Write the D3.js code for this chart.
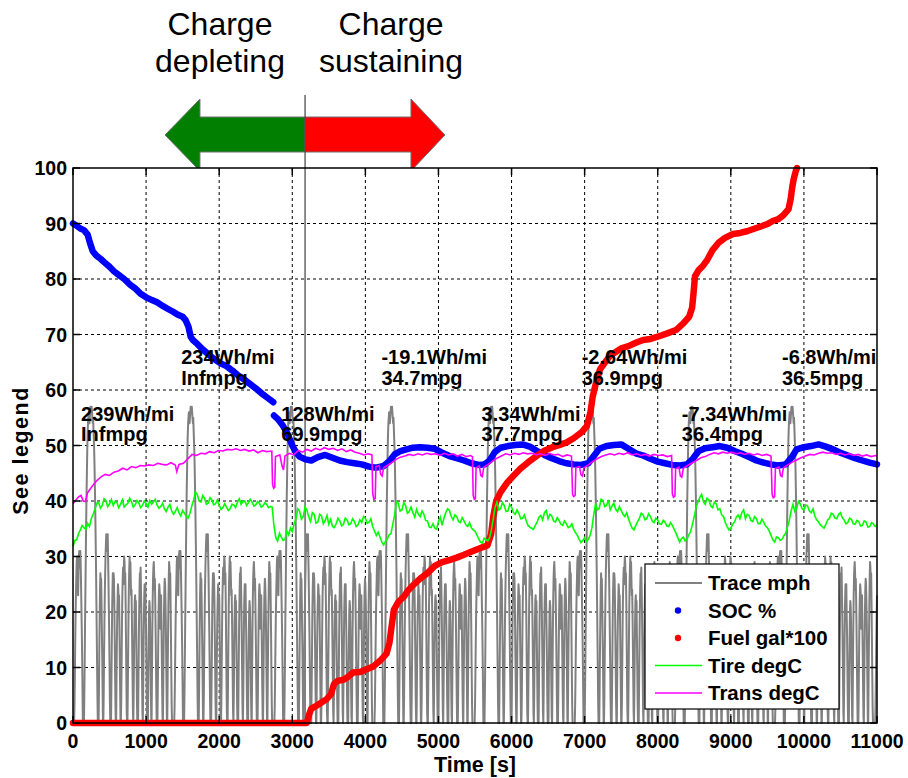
<!DOCTYPE html>
<html>
<head>
<meta charset="utf-8">
<script src="https://cdn.jsdelivr.net/npm/d3@7"></script>
<style>
  body { margin: 0; background: #fff; }
  text { font-family: Arial, "Liberation Sans", Helvetica, sans-serif; }
</style>
</head>
<body>
<svg id="chart" width="908" height="778"></svg>
<script>
// ---------------- data ----------------
// Drive-cycle speed trace (mph), one lap sampled every 5 s; the test repeats the lap.
const lapStarts = [0, 1370, 2740, 4110, 5480, 6850, 8220, 9590, 10960];
const lapSampleSec = 5;
const speedLap = [
  0,0,0,0,3,8,14,19,23,26,
  29,30,28,25,23,27,30,31,30,28,
  31,29,25,21,17,12,6,0,0,0,
  0,5,11,18,24,30,36,41,45,49,
  52,54,55,56,55,54,55,56,57,56,
  56,57,56,55,54,55,53,51,49,46,
  42,38,33,28,22,16,10,4,0,0,
  0,6,13,19,24,27,25,26,22,17,
  12,6,0,0,5,12,18,23,27,30,
  32,34,33,31,33,34,30,26,21,16,
  10,4,0,0,0,6,13,20,24,27,
  25,27,26,22,16,10,4,0,0,7,
  14,19,22,25,24,20,23,18,12,6,
  0,0,4,11,18,23,26,28,25,28,
  30,29,26,27,22,15,8,2,0,0,
  6,13,20,25,28,30,27,29,26,23,
  24,20,14,8,2,0,5,12,18,22,
  23,20,22,16,10,4,0,0,0,7,
  14,20,24,27,26,28,24,20,14,8,
  2,0,6,13,19,23,25,22,25,20,
  16,10,4,0,0,0,8,15,20,22,
  21,18,12,6,1,0,8,16,22,26,
  28,29,27,24,26,22,17,11,5,0,
  0,0,6,13,19,23,25,24,21,17,
  20,23,18,12,6,1,0,7,14,20,
  24,26,25,22,18,12,6,0,0,8,
  15,21,26,29,28,25,27,22,16,9,
  3,0,0,0
];

// Battery state of charge [time s, %]; null marks the logging gap
const socPoints = [
  [0,90],[50,89.6],[100,89.1],[150,88.8],[200,88],[230,86.6],[270,85],[320,84.2],[380,83.6],[430,83],
  [500,82.2],[560,81.4],[620,80.8],[700,80],[780,79],[850,78.3],[920,77.4],[1000,76.7],[1080,76.2],[1150,75.8],
  [1220,75.2],[1300,74.6],[1370,74.1],[1430,73.6],[1500,73.2],[1540,72.6],[1580,71.4],[1610,69.6],[1640,69],[1700,68.3],
  [1760,67.5],[1820,66.8],[1880,66.1],[1950,65.4],[2020,64.8],[2100,64.3],[2180,63.5],[2260,62.6],[2340,61.9],[2420,61.1],
  [2500,60.3],[2580,59.4],[2660,58.6],[2740,57.8],[2745,null],[2750,55.4],[2800,54.8],[2860,53.8],[2920,52.5],[2970,51],
  [3000,50],[3050,48.8],[3100,48],[3180,47.5],[3260,47.3],[3350,47.9],[3450,48.3],[3550,47.8],[3650,47.3],[3750,47],
  [3850,46.8],[3950,46.6],[4050,46.2],[4150,46],[4250,46.3],[4330,47.2],[4400,48.4],[4480,49],[4560,49.3],[4650,49.6],
  [4750,49.7],[4850,49.6],[4950,49.4],[5050,48.7],[5150,48.1],[5250,47.7],[5350,47.3],[5450,46.8],[5550,46.5],[5630,46.6],
  [5700,47.3],[5770,48.8],[5850,49.6],[5950,49.9],[6050,50.1],[6150,50.2],[6250,49.8],[6350,49],[6450,48.3],[6550,47.7],
  [6650,47.2],[6750,46.8],[6850,46.6],[6950,46.5],[7050,46.8],[7120,48],[7200,49.4],[7300,49.9],[7400,50.1],[7500,50.2],
  [7600,49.4],[7700,48.6],[7800,48.2],[7900,47.6],[8000,47.1],[8100,46.8],[8200,46.5],[8300,46.4],[8400,46.6],[8480,47.6],
  [8560,49],[8650,49.5],[8750,49.7],[8850,49.9],[8950,49.6],[9050,49],[9150,48.5],[9250,47.9],[9350,47.3],[9450,46.9],
  [9550,46.6],[9650,46.4],[9750,46.6],[9830,47.8],[9900,49.3],[10000,49.7],[10100,49.9],[10200,50.2],[10300,49.8],[10400,49.3],
  [10500,48.7],[10600,48.2],[10700,47.7],[10800,47.3],[10900,46.9],[11000,46.6]
];

// Cumulative fuel used [time s, gal*100]
const fuelPoints = [
  [0,0],[3200,0],[3230,1.5],[3260,2.6],[3330,3.1],[3400,3.7],[3470,4.3],[3530,5.2],[3570,7],[3620,7.6],
  [3700,7.8],[3760,8.3],[3830,9.1],[3930,9.2],[4000,9.6],[4110,10.2],[4200,11.2],[4290,12.5],[4330,14.5],[4360,17.5],
  [4390,20.4],[4450,21.8],[4530,22.8],[4580,23.8],[4650,24.8],[4750,26],[4850,27],[4950,28.3],[5050,29],[5160,29.4],
  [5250,29.8],[5350,30.3],[5440,30.8],[5550,31.4],[5670,32],[5720,34],[5750,37.2],[5790,40],[5850,41.6],[5940,43.3],
  [6030,44.6],[6120,45.8],[6220,46.9],[6330,48],[6440,49],[6560,49.7],[6680,50.2],[6760,50.6],[6850,51.3],[6960,52.4],
  [7030,53.5],[7080,56],[7110,58.8],[7150,61],[7210,63.7],[7280,65],[7350,66.2],[7420,66.8],[7500,67.5],[7600,67.9],
  [7700,68.5],[7800,69],[7900,69.2],[8000,69.6],[8130,70.2],[8250,70.8],[8350,72],[8430,73.2],[8470,74.8],[8490,77.5],
  [8510,80.5],[8560,81.6],[8620,82.4],[8680,83.5],[8750,85.2],[8830,86.5],[8920,87.4],[9030,88.1],[9130,88.3],[9220,88.6],
  [9330,89.1],[9420,89.5],[9500,89.9],[9580,90.5],[9650,90.8],[9720,91.5],[9790,92.6],[9820,94.5],[9840,96.5],[9860,98],
  [9890,99.5],[9905,100]
];

// Tire temperature (degC), sampled every 25 s from t = 0
const tireSampleSec = 25;
const tireDegC = [
  31.8,32.9,33.0,34.1,34.8,35.6,35.2,34.9,36.0,35.4,36.8,37.6,38.5,39.6,39.8,38.7,39.2,40.4,40.1,39.0,
  39.5,40.3,39.2,39.9,39.8,38.8,39.4,40.2,38.9,39.3,39.6,40.5,39.9,38.9,39.3,40.1,39.7,38.8,39.2,40.0,
  39.5,38.9,40.1,39.4,39.8,40.3,39.3,38.7,39.0,39.6,38.6,38.1,38.9,39.4,38.2,37.6,38.1,38.8,37.9,37.3,
  38.3,37.8,37.2,36.9,37.8,39.1,40.2,41.6,41.2,40.0,39.8,41.0,40.5,39.4,39.6,40.6,40.2,39.3,39.5,40.2,
  39.2,38.5,38.8,39.5,38.9,38.3,38.6,39.4,39.3,38.8,39.8,40.4,39.4,39.9,40.0,39.2,39.7,40.3,39.8,39.1,
  39.3,39.9,39.6,38.9,39.1,39.7,39.4,38.8,39.0,38.9,35.5,33.4,32.8,34.2,33.5,32.9,33.1,34.6,33.9,35.1,
  34.5,35.9,36.8,38.6,38.2,36.7,37.2,38.9,38.4,37.1,36.3,37.9,37.6,36.0,36.2,37.6,37.3,35.9,36.5,37.4,
  35.8,36.7,35.4,35.2,35.9,36.9,36.4,35.5,35.8,36.9,36.6,35.7,35.9,36.8,36.3,35.4,35.7,36.6,36.1,37.2,
  36.9,36.0,36.2,36.8,35.4,34.6,33.8,34.4,33.5,32.6,32.1,32.7,33.2,33.9,34.1,35.8,37.5,39.9,39.6,38.2,
  38.4,39.7,39.2,37.8,38.1,38.9,37.9,37.1,38.5,37.6,37.2,38.2,37.6,36.5,36.4,35.3,35.2,35.9,35.1,34.9,
  36.3,37.1,35.6,36.9,37.9,38.6,38.3,37.2,36.6,37.5,37.2,36.3,36.1,37.0,36.4,35.7,35.4,36.1,35.2,34.8,
  34.6,33.9,33.2,32.6,32.4,33.3,33.1,32.8,33.4,34.9,36.8,38.9,39.8,38.4,38.6,39.7,39.2,38.1,38.2,39.4,
  38.9,37.9,37.6,38.4,37.8,36.8,36.9,37.5,36.5,35.6,35.3,35.1,34.9,35.6,36.2,37.1,37.4,36.6,37.9,38.3,
  36.8,37.6,37.3,36.4,36.2,37.0,36.5,35.8,35.6,36.4,35.9,35.2,35.4,35.9,34.9,34.3,33.8,33.1,32.5,32.9,
  33.4,32.7,33.1,33.8,35.2,37.6,39.5,38.4,38.7,40.3,40.1,39.0,39.2,40.2,38.4,39.1,39.6,38.5,38.1,39.0,
  38.3,37.6,37.2,37.9,36.8,35.9,35.1,34.8,35.6,36.3,36.9,37.8,37.5,36.6,36.8,37.7,37.2,36.4,36.1,36.9,
  36.6,35.9,35.8,36.5,36.2,35.5,35.4,36.1,35.6,34.9,34.2,33.4,32.6,33.2,33.5,32.8,33.1,33.9,34.5,35.8,
  37.2,38.9,39.8,40.6,41.2,39.9,39.4,40.5,40.2,39.1,38.8,39.8,39.5,38.4,38.6,37.5,37.2,36.1,35.4,34.8,
  35.1,35.8,36.2,37.1,37.5,36.8,37.9,38.4,36.8,37.6,37.4,36.5,36.3,37.2,36.8,35.9,35.9,36.7,36.2,35.5,
  35.2,34.6,33.8,33.0,32.6,33.5,33.4,32.9,33.1,33.7,34.2,35.3,36.5,38.2,39.4,38.1,38.6,39.9,39.5,38.6,
  38.4,39.3,39.1,38.2,37.9,38.6,37.3,36.6,36.2,35.7,35.4,35.1,35.8,36.6,36.9,37.8,37.6,36.9,36.8,37.6,
  37.9,37.0,36.6,35.9,36.1,36.9,36.7,35.9,35.8,36.5,36.3,35.5,35.6,36.4,36.2,35.3,35.4,36.1,35.9,35.4,
  35.7
];

// Transmission temperature [time s, degC]
const transPoints = [
  [0,39.5],[40,40.2],[80,40.8],[110,41],[140,40],[170,39.9],[200,41.5],[260,42.6],[320,43.6],[380,44.3],
  [440,44.8],[500,44.6],[560,45.2],[620,45.4],[680,45.9],[740,45.6],[800,46.2],[860,46],[920,46.4],[980,46.3],
  [1040,46.5],[1100,46.4],[1160,46.8],[1220,46.6],[1280,46.5],[1340,46.9],[1400,46.5],[1420,45.3],[1450,46.6],[1510,46.8],
  [1570,47.6],[1630,48.4],[1690,48.2],[1750,48.6],[1810,48.5],[1870,48.9],[1930,48.7],[1990,49.1],[2050,49],[2110,49.3],
  [2170,49.2],[2230,49.4],[2290,49.1],[2350,49.3],[2410,49],[2470,49.2],[2530,48.7],[2590,49.1],[2650,48.9],[2720,49],
  [2730,43],[2745,42.3],[2760,42.5],[2770,48],[2830,48.3],[2860,46.3],[2880,45.6],[2900,48.1],[2960,48.6],[3020,48.3],
  [3080,49.1],[3140,48.8],[3200,49.3],[3260,49],[3320,49.5],[3380,49.2],[3440,49.6],[3500,49.3],[3560,49.5],[3620,49.1],
  [3680,49.4],[3740,48.9],[3800,49.2],[3860,48.8],[3920,48.6],[3980,48.3],[4040,48.5],[4090,48.3],[4100,41.5],[4115,40.3],
  [4135,40.5],[4145,46.2],[4190,46.4],[4210,44.8],[4230,44.5],[4250,46],[4300,46.4],[4360,46.9],[4420,47.5],[4480,47.9],
  [4540,48.1],[4600,48.4],[4660,48.2],[4720,48.5],[4780,48.3],[4840,48.6],[4900,48.4],[4960,48.5],[5020,48.2],[5080,48.6],
  [5140,48.3],[5200,48.5],[5260,48.1],[5320,48.4],[5380,48],[5440,48.2],[5465,48],[5475,41],[5490,40.3],[5505,40.4],
  [5515,46],[5560,46.3],[5580,44.6],[5600,44.4],[5620,46.1],[5680,46.6],[5740,47.2],[5800,47.7],[5860,48.1],[5920,48.5],
  [5980,48.3],[6040,48.6],[6100,48.4],[6160,48.7],[6220,48.5],[6280,48.6],[6340,48.3],[6400,48.5],[6460,48.2],[6520,48.6],
  [6580,48.3],[6640,48.4],[6700,48],[6760,48.3],[6820,48.1],[6835,41.2],[6850,40.8],[6870,41],[6880,46],[6930,46.2],
  [6950,44.7],[6970,44.5],[6990,46],[7050,46.5],[7110,47.1],[7170,47.6],[7230,48],[7290,48.3],[7350,48.5],[7410,48.3],
  [7470,48.6],[7530,48.4],[7590,48.7],[7650,48.3],[7710,48.5],[7770,48.2],[7830,48.4],[7890,48.1],[7950,48.4],[8010,48.2],
  [8070,48.3],[8130,48],[8190,48.2],[8200,41.3],[8215,40.7],[8235,40.9],[8245,45.8],[8290,46.1],[8310,44.5],[8330,44.3],
  [8350,45.9],[8410,46.4],[8470,46.9],[8530,47.3],[8590,47.8],[8650,48],[8710,48.4],[8770,48.7],[8830,48.5],[8890,48.8],
  [8950,48.6],[9010,48.8],[9070,48.5],[9130,48.7],[9190,48.4],[9250,48.6],[9310,48.3],[9370,48.5],[9430,48.2],[9490,48.4],
  [9550,48.1],[9565,41.2],[9580,40.6],[9600,40.8],[9610,45.9],[9660,46.1],[9680,44.6],[9700,44.4],[9720,46],[9780,46.5],
  [9840,47],[9900,47.4],[9960,47.8],[10020,48.1],[10080,48.4],[10140,48.3],[10200,48.6],[10260,48.8],[10320,48.6],[10380,48.7],
  [10440,48.4],[10500,48.6],[10560,48.3],[10620,48.5],[10680,48.2],[10740,48.4],[10800,48.1],[10860,48.3],[10920,48],[10980,48.2],
  [11000,48.1]
];

// Per-lap energy / fuel economy annotations
const lapLabelTime = [110, 1480, 2850, 4220, 5590, 6960, 8330, 9700];
const lapLabelLevel = [54.5, 64.6, 54.5, 64.6, 54.5, 64.6, 54.5, 64.6];
const lapEnergy = ["239Wh/mi", "234Wh/mi", "128Wh/mi", "-19.1Wh/mi", "3.34Wh/mi", "-2.64Wh/mi", "-7.34Wh/mi", "-6.8Wh/mi"];
const lapEconomy = ["Infmpg", "Infmpg", "69.9mpg", "34.7mpg", "37.7mpg", "36.9mpg", "36.4mpg", "36.5mpg"];

// Operating-mode banner
const modeSplitTime = 3175;
const modeArrowTimes = [1259, 1737, 4624, 5089]; // left tip, left head base, right head base, right tip
const modeNames = [["Charge", "depleting"], ["Charge", "sustaining"]];
const modeLabelTime = [2011, 4351];

const xTicks = [0, 1000, 2000, 3000, 4000, 5000, 6000, 7000, 8000, 9000, 10000, 11000];
const yTicks = [0, 10, 20, 30, 40, 50, 60, 70, 80, 90, 100];
const legendLabels = ["Trace mph", "SOC %", "Fuel gal*100", "Tire degC", "Trans degC"];

// ---------------- drawing ----------------
const svg = d3.select("#chart");
const plot = { left: 73, top: 168, right: 877, bottom: 723 };
const x = d3.scaleLinear().domain([0, 11000]).range([plot.left, plot.right]);
const y = d3.scaleLinear().domain([0, 100]).range([plot.bottom, plot.top]);

svg.append("rect").attr("width", 908).attr("height", 778).attr("fill", "#fff");

// mode arrows
const aTop = 99, aBodyTop = 117, aMid = 135, aBodyBot = 152, aBot = 171;
const [tL, hL, hR, tR] = modeArrowTimes.map(x);
const xs = x(modeSplitTime);
svg.append("polygon")
  .attr("points", [[tL, aMid], [hL, aTop], [hL, aBodyTop], [xs, aBodyTop], [xs, aBodyBot], [hL, aBodyBot], [hL, aBot]].join(" "))
  .attr("fill", "#007f00").attr("stroke", "#707070").attr("stroke-width", 1);
svg.append("polygon")
  .attr("points", [[xs, aBodyTop], [hR, aBodyTop], [hR, aTop], [tR, aMid], [hR, aBot], [hR, aBodyBot], [xs, aBodyBot]].join(" "))
  .attr("fill", "#ff0000").attr("stroke", "#707070").attr("stroke-width", 1);

modeNames.forEach((lines, i) => {
  const t = svg.append("text").attr("x", x(modeLabelTime[i])).attr("text-anchor", "middle")
    .attr("font-size", 32).attr("fill", "#000");
  t.append("tspan").attr("x", x(modeLabelTime[i])).attr("y", 35).text(lines[0]);
  t.append("tspan").attr("x", x(modeLabelTime[i])).attr("y", 72).text(lines[1]);
});

// plot background
svg.append("rect").attr("x", plot.left).attr("y", plot.top)
  .attr("width", plot.right - plot.left).attr("height", plot.bottom - plot.top).attr("fill", "#fff");

// grid
const grid = svg.append("g").attr("stroke", "#000").attr("stroke-width", 1).attr("stroke-dasharray", "3,3");
xTicks.slice(1, -1).forEach(v => grid.append("line").attr("x1", x(v)).attr("x2", x(v)).attr("y1", plot.top).attr("y2", plot.bottom));
yTicks.slice(1, -1).forEach(v => grid.append("line").attr("x1", plot.left).attr("x2", plot.right).attr("y1", y(v)).attr("y2", y(v)));

// mode split line
svg.append("line").attr("x1", xs).attr("x2", xs).attr("y1", 95).attr("y2", plot.bottom)
  .attr("stroke", "#404040").attr("stroke-width", 1.2);

// series
const line = d3.line().x(d => x(d[0])).y(d => y(d[1])).defined(d => d[1] !== null);

lapStarts.forEach(start => {
  const pts = speedLap.map((v, i) => [start + i * lapSampleSec, v]).filter(d => d[0] <= 11000);
  svg.append("path").attr("d", line(pts)).attr("fill", "none")
    .attr("stroke", "#808080").attr("stroke-width", 2).attr("stroke-linejoin", "round");
});

svg.append("path").attr("d", line(socPoints)).attr("fill", "none")
  .attr("stroke", "#0000ff").attr("stroke-width", 6.5).attr("stroke-linecap", "round").attr("stroke-linejoin", "round");

svg.append("path").attr("d", line(fuelPoints)).attr("fill", "none")
  .attr("stroke", "#ff0000").attr("stroke-width", 6.5).attr("stroke-linecap", "round").attr("stroke-linejoin", "round");

svg.append("path").attr("d", line(tireDegC.map((v, i) => [i * tireSampleSec, v]))).attr("fill", "none")
  .attr("stroke", "#00ff00").attr("stroke-width", 1.6);

svg.append("path").attr("d", line(transPoints)).attr("fill", "none")
  .attr("stroke", "#ff00ff").attr("stroke-width", 1.6);

// lap annotations
lapLabelTime.forEach((t, i) => {
  const g = svg.append("text").attr("font-size", 20).attr("font-weight", "bold").attr("fill", "#000");
  g.append("tspan").attr("x", x(t)).attr("y", y(lapLabelLevel[i])).text(lapEnergy[i]);
  g.append("tspan").attr("x", x(t)).attr("y", y(lapLabelLevel[i]) + 20.5).text(lapEconomy[i]);
});

// axes box and ticks
const ax = svg.append("g").attr("stroke", "#000").attr("stroke-width", 1.5);
ax.append("rect").attr("x", plot.left).attr("y", plot.top)
  .attr("width", plot.right - plot.left).attr("height", plot.bottom - plot.top).attr("fill", "none");
const tk = 7;
xTicks.forEach(v => {
  ax.append("line").attr("x1", x(v)).attr("x2", x(v)).attr("y1", plot.bottom).attr("y2", plot.bottom - tk);
  ax.append("line").attr("x1", x(v)).attr("x2", x(v)).attr("y1", plot.top).attr("y2", plot.top + tk);
});
yTicks.forEach(v => {
  ax.append("line").attr("x1", plot.left).attr("x2", plot.left + tk).attr("y1", y(v)).attr("y2", y(v));
  ax.append("line").attr("x1", plot.right).attr("x2", plot.right - tk).attr("y1", y(v)).attr("y2", y(v));
});

xTicks.forEach(v => svg.append("text").attr("x", x(v)).attr("y", 748).attr("text-anchor", "middle")
  .attr("font-size", 19.5).attr("font-weight", "bold").text(v));
yTicks.forEach(v => svg.append("text").attr("x", 67).attr("y", y(v)).attr("dy", "0.36em").attr("text-anchor", "end")
  .attr("font-size", 19.5).attr("font-weight", "bold").text(v));

svg.append("text").attr("x", (plot.left + plot.right) / 2).attr("y", 772).attr("text-anchor", "middle")
  .attr("font-size", 21.5).attr("font-weight", "bold").text("Time [s]");
svg.append("text").attr("transform", `translate(28,${(plot.top + plot.bottom) / 2 + 5}) rotate(-90)`)
  .attr("text-anchor", "middle").attr("font-size", 21.5).attr("font-weight", "bold")
  .attr("letter-spacing", 1.5).text("See legend");

// legend
const lg = svg.append("g").attr("transform", "translate(645,564)");
lg.append("rect").attr("width", 194).attr("height", 145).attr("fill", "#fff").attr("stroke", "#000").attr("stroke-width", 1.2);
const legendStyle = [
  { kind: "line", color: "#808080", w: 2 },
  { kind: "dot", color: "#0000ff" },
  { kind: "dot", color: "#ff0000" },
  { kind: "line", color: "#00ff00", w: 1.6 },
  { kind: "line", color: "#ff00ff", w: 1.6 }
];
legendLabels.forEach((lab, i) => {
  const cy = 19 + i * 27.5;
  const s = legendStyle[i];
  if (s.kind === "line") {
    lg.append("line").attr("x1", 10).attr("x2", 57).attr("y1", cy).attr("y2", cy).attr("stroke", s.color).attr("stroke-width", s.w);
  } else {
    lg.append("circle").attr("cx", 33).attr("cy", cy).attr("r", 3.2).attr("fill", s.color);
  }
  lg.append("text").attr("x", 63).attr("y", cy).attr("dy", "0.36em").attr("font-size", 20.5)
    .attr("font-weight", "bold").text(lab);
});
</script>
</body>
</html>
